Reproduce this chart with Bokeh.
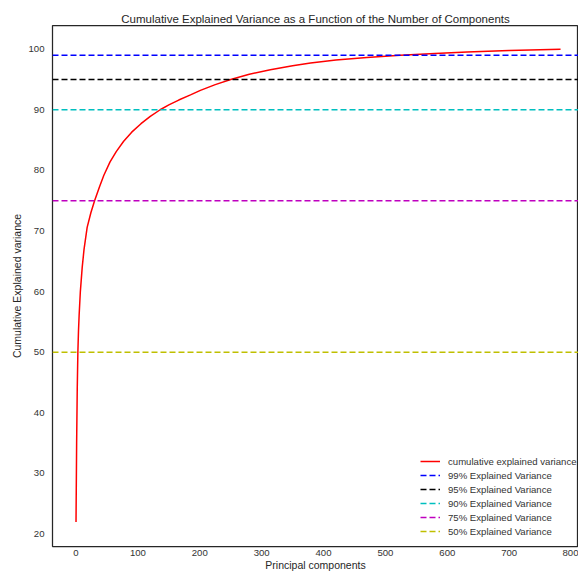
from bokeh.plotting import figure
from bokeh.models import Range1d, Legend, LegendItem, FixedTicker
from bokeh.embed import file_html
from bokeh.resources import INLINE

# Data
components = [0, 1, 2, 3, 4, 5, 7, 10, 13, 18, 24, 30, 38, 45, 55, 65, 77, 90, 105,
              120, 136, 150, 166, 185, 201, 225, 250, 280, 314, 350, 379, 420, 470,
              524, 580, 632, 700, 783]
cum_var = [22.0, 35.0, 44.0, 50.0, 53.5, 56.0, 60.0, 64.0, 67.0, 70.6, 73.0, 75.0,
           77.3, 79.2, 81.4, 83.1, 84.8, 86.3, 87.7, 88.9, 90.0, 90.8, 91.6, 92.45,
           93.2, 94.15, 95.0, 95.85, 96.6, 97.25, 97.7, 98.2, 98.62, 98.98, 99.3,
           99.53, 99.77, 100.0]

thresholds = [99, 95, 90, 75, 50]
threshold_labels = ["99% Explained Variance", "95% Explained Variance",
                    "90% Explained Variance", "75% Explained Variance",
                    "50% Explained Variance"]
threshold_colors = ["#0000ff", "#000000", "#00bfbf", "#bf00bf", "#bfbf00"]

x_ticks = [0, 100, 200, 300, 400, 500, 600, 700, 800]
y_ticks = [20, 30, 40, 50, 60, 70, 80, 90, 100]

X_MIN, X_MAX = -38, 812
Y_MIN, Y_MAX = 17.94, 103.9

FONT = "Liberation Sans"

p = figure(width=578, height=574, output_backend="svg", toolbar_location=None,
           x_range=Range1d(X_MIN, X_MAX), y_range=Range1d(Y_MIN, Y_MAX),
           min_border_left=52, min_border_right=0, min_border_top=25, min_border_bottom=28,
           title="Cumulative Explained Variance as a Function of the Number of Components")

p.title.align = "center"
p.title.text_font = FONT
p.title.text_font_size = "11.5px"
p.title.text_font_style = "normal"
p.title.text_color = "#262626"
p.title.standoff = 2

p.background_fill_color = "white"
p.border_fill_color = "white"
p.outline_line_color = "#262626"
p.outline_line_width = 1.25
p.xgrid.visible = False
p.ygrid.visible = False

for ax in (p.xaxis[0], p.yaxis[0]):
    ax.axis_line_color = None
    ax.major_tick_line_color = None
    ax.minor_tick_line_color = None
    ax.major_tick_out = 0
    ax.major_tick_in = 0
    ax.minor_tick_out = 0
    ax.major_label_text_font = FONT
    ax.major_label_text_font_size = "9.6px"
    ax.major_label_text_color = "#333333"
    ax.axis_label_text_font = FONT
    ax.axis_label_text_font_size = "10.5px"
    ax.axis_label_text_font_style = "normal"
    ax.axis_label_text_color = "#262626"

p.xaxis.ticker = FixedTicker(ticks=x_ticks)
p.yaxis.ticker = FixedTicker(ticks=y_ticks)
p.xaxis.axis_label = "Principal components"
p.yaxis.axis_label = "Cumulative Explained variance"
p.xaxis.major_label_standoff = 3
p.xaxis.axis_label_standoff = 0
p.yaxis.major_label_standoff = 8
p.yaxis.axis_label_standoff = 2

items = []
r = p.line(components, cum_var, line_color="#ff0000", line_width=1.5)
items.append(LegendItem(label="cumulative explained variance", renderers=[r]))
for lvl, lab, col in zip(thresholds, threshold_labels, threshold_colors):
    rr = p.line([X_MIN, X_MAX], [lvl, lvl], line_color=col, line_width=1.5, line_dash="6 3")
    items.append(LegendItem(label=lab, renderers=[rr]))

legend = Legend(items=items, location=(368, 8))
legend.border_line_color = None
legend.background_fill_alpha = 0
legend.label_text_font = FONT
legend.label_text_font_size = "9.6px"
legend.label_text_color = "#333333"
legend.glyph_width = 20
legend.glyph_height = 14
legend.label_height = 14
legend.spacing = 0
legend.padding = 3
legend.margin = 0
legend.label_standoff = 8
p.add_layout(legend, "center")

open("out.html", "w").write(file_html(p, INLINE))
